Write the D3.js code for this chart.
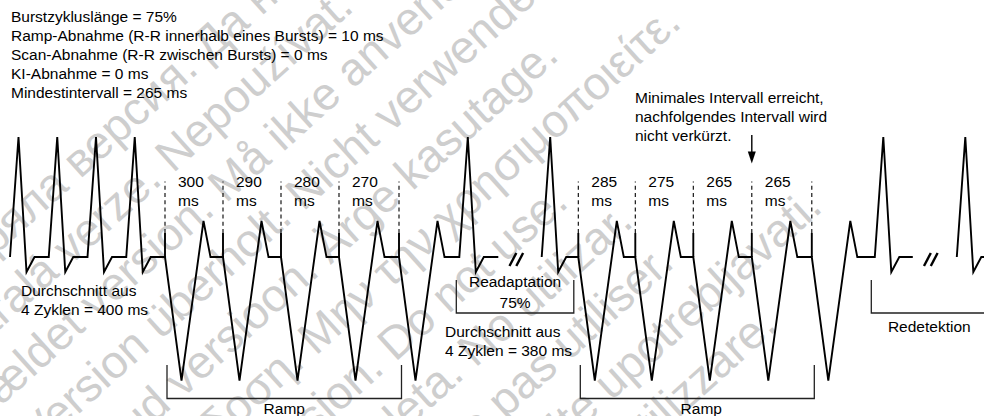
<!DOCTYPE html>
<html>
<head>
<meta charset="utf-8">
<script src="https://cdn.jsdelivr.net/npm/d3@7"></script>
<style>
  body { margin: 0; background: #fff; }
  svg { display: block; font-family: "Liberation Sans", Arial, sans-serif; }
</style>
</head>
<body>
<div class="main"></div>
<script>
const svgWidth = 984,
    svgHeight = 416;

// text blocks
const settingsLines = [
  "Burstzykluslänge = 75%",
  "Ramp-Abnahme (R-R innerhalb eines Bursts) = 10 ms",
  "Scan-Abnahme (R-R zwischen Bursts) = 0 ms",
  "KI-Abnahme = 0 ms",
  "Mindestintervall = 265 ms"
];
const noteLines = ["Minimales Intervall erreicht,", "nachfolgendes Intervall wird", "nicht verkürzt."];
const avgLabels1 = ["Durchschnitt aus", "4 Zyklen = 400 ms"];
const avgLabels2 = ["Durchschnitt aus", "4 Zyklen = 380 ms"];
const readaptLabels = ["Readaptation", "75%"];

// rhythm strip: event type and length (schematic units, not to scale)
const stripTypes   = ["sinus", "sinus", "sinus", "sinus",
                      "paced", "paced", "paced", "paced", "paced",
                      "sinus", "break", "sinus",
                      "paced", "paced", "paced", "paced", "paced",
                      "sinus", "break", "sinus"];
const stripLengths = [38.75, 38.75, 38.75, 38.75,
                      58, 58, 58, 60, 60.3,
                      39, 43.4, 36.6,
                      57, 58, 58.5, 60, 63,
                      38, 44, 40];

// R-R intervals labelled inside each ramp (ms)
const rampIntervals = [[300, 290, 280, 270], [285, 275, 265, 265]];

// watermark ("outdated version" in several languages)
const wmLines = [
  "Остаряла версия. Да не се използва.",
  "Zastaralá verze. Nepoužívat.",
  "Forældet version. Må ikke anvendes.",
  "Version überholt. Nicht verwenden.",
  "Aegunud versioon. Ärge kasutage.",
  "Παλιά έκδοση. Μην την χρησιμοποιείτε.",
  "Outdated version. Do not use.",
  "Versión obsoleta. No utilizar.",
  "Version périmée. Ne pas utiliser.",
  "Zastarjela verzija. Nemojte upotrebljavati.",
  "Versione obsoleta. Non utilizzare."
];
// word of each line used to pin it, and where that word's centre sits along the line
const wmAnchorWord = ["Да", "Nepoužívat.", "ikke", "Nicht", "kasutage.", "χρησιμοποιείτε.",
  "use.", "utilizar.", "utiliser.", "upotrebljavati.", "utilizzare."];
const wmAnchorU = [142, 135, 149, 136, 278, 333, 243, 250, 253, 329, 262];

// amplitudes of the schematic complexes
const amp = {sinusPeak: 1, sinusS: -0.125, pacedTrough: -1.03, pacedPeak: 0.3, spike: 0.2, marker: 0.63};

let svg = d3.select("body>.main").append("svg")
    .attr("width", svgWidth)
    .attr("height", svgHeight);

let x = d3.scaleLinear().domain([0, 974]).range([10, 984]),
    y = d3.scaleLinear().domain([-1, 1]).range([377, 137]);

// watermark, rotated paragraph
const wmRow = d3.scaleLinear().domain([0, 1]).range([187, 244.8]);
const wm = svg.append("g").attr("class", "watermark")
    .attr("transform", "rotate(-42)")
    .style("font-size", "46px").attr("fill", "#cecece");
wm.selectAll("text")
    .data(wmLines)
  .enter().append("text")
    .attr("y", (d, i) => wmRow(i))
    .text(d => d)
    .each(function(d, i) {
      let k = d.lastIndexOf(wmAnchorWord[i]);
      let pre = k > 0 ? this.getSubStringLength(0, k) : 0;
      let w = this.getSubStringLength(k, wmAnchorWord[i].length);
      d3.select(this).attr("x", wmAnchorU[i] - pre - w / 2);
    });

// build events with start positions
let events = [], pos = 0;
stripTypes.forEach(function(t, i) {
  events.push({type: t, start: pos, len: stripLengths[i]});
  pos += stripLengths[i];
});

function beatPoints(e) {
  if (e.type === "sinus") {
    return [[0, 0], [8.5, amp.sinusPeak], [16.5, amp.sinusS], [24.5, 0], [e.len, 0]];
  }
  return [[0, 0], [16.5, amp.pacedTrough], [38.5, amp.pacedPeak], [45.5, 0], [e.len, 0]];
}

// split strip into continuous pieces at breaks
let pieces = [[]];
events.forEach(function(e) {
  if (e.type === "break") { pieces.push([]); return; }
  beatPoints(e).forEach(p => pieces[pieces.length - 1].push([e.start + p[0], p[1]]));
});

const line = d3.line().x(d => x(d[0])).y(d => y(d[1]));

const strip = svg.append("g").attr("class", "strip");
strip.selectAll("path.ecg")
    .data(pieces)
  .enter().append("path")
    .attr("class", "ecg")
    .attr("d", line)
    .attr("fill", "none")
    .attr("stroke", "#000")
    .attr("stroke-width", 1.9)
    .attr("stroke-linejoin", "miter");

// break marks "//"
events.filter(e => e.type === "break").forEach(function(e) {
  let cx = x(e.start + 18), cy = y(0) + 2.5;
  [-3.4, 3.4].forEach(function(dx) {
    strip.append("line")
      .attr("x1", cx + dx - 3.4).attr("y1", cy + 6.5)
      .attr("x2", cx + dx + 3.4).attr("y2", cy - 6.5)
      .attr("stroke", "#000").attr("stroke-width", 2.4);
  });
});

// pacing markers and interval labels
let ramps = [], current = null;
events.forEach(function(e) {
  if (e.type === "paced") {
    if (!current) { current = []; ramps.push(current); }
    current.push(e);
  } else {
    current = null;
  }
});

const fontSize = 15.5;
ramps.forEach(function(r, ri) {
  r.forEach(function(e, i) {
    let px = x(e.start);
    strip.append("line")
      .attr("x1", px).attr("x2", px)
      .attr("y1", y(0)).attr("y2", y(amp.spike))
      .attr("stroke", "#000").attr("stroke-width", 1.9);
    strip.append("line")
      .attr("x1", px).attr("x2", px)
      .attr("y1", y(amp.spike)).attr("y2", y(amp.marker))
      .attr("stroke", "#000").attr("stroke-width", 1.1)
      .attr("stroke-dasharray", "4,3.2");
    if (i < rampIntervals[ri].length) {
      let t = svg.append("text").attr("font-size", fontSize);
      t.append("tspan").attr("x", px + 13).attr("y", 187).text(rampIntervals[ri][i]);
      t.append("tspan").attr("x", px + 13).attr("y", 206).text("ms");
    }
  });

  // ramp bracket
  let x0 = x(r[0].start) + 2, x1 = x(r[r.length - 1].start) + 2.5;
  svg.append("path")
    .attr("d", `M${x0},365V398.5H${x1}V365`)
    .attr("fill", "none").attr("stroke", "#222").attr("stroke-width", 1.3);
  svg.append("text").attr("font-size", fontSize)
    .attr("x", (x0 + x1) / 2 + (ri ? 4 : 0)).attr("y", 414)
    .attr("text-anchor", "middle").text("Ramp");
});

// readaptation bracket: from end of ramp 1 sinus to start of ramp 2
const afterRamp1 = events[stripTypes.indexOf("break") - 1];
const rx0 = x(afterRamp1.start) - 3, rx1 = x(ramps[1][0].start) - 4.5;
svg.append("path")
  .attr("d", `M${rx0},280V313H${rx1}V280`)
  .attr("fill", "none").attr("stroke", "#222").attr("stroke-width", 1.3);
readaptLabels.forEach(function(t, i) {
  svg.append("text").attr("font-size", fontSize)
    .attr("x", (rx0 + rx1) / 2).attr("y", 287 + i * 21)
    .attr("text-anchor", "middle").text(t);
});

// redetection bracket
const afterRamp2 = events[stripTypes.lastIndexOf("break") - 1];
const dx0 = x(afterRamp2.start) - 3.5;
svg.append("path")
  .attr("d", `M${dx0},280V313H${svgWidth + 5}`)
  .attr("fill", "none").attr("stroke", "#222").attr("stroke-width", 1.3);
svg.append("text").attr("font-size", fontSize)
  .attr("x", dx0 + 58).attr("y", 331.5)
  .attr("text-anchor", "middle").text("Redetektion");

// averaging labels and notes
function block(lines, x0, y0, step) {
  let t = svg.append("text").attr("font-size", fontSize);
  lines.forEach(function(l, i) {
    t.append("tspan").attr("x", x0).attr("y", y0 + i * step).text(l);
  });
}
block(avgLabels1, 21, 296, 19);
block(avgLabels2, 445, 337, 19);
block(settingsLines, 11, 22, 19);
block(noteLines, 635, 103, 19);

// arrow to the minimum interval
const ax = x(ramps[1][3].start);
svg.append("line").attr("x1", ax).attr("x2", ax).attr("y1", 135).attr("y2", 153)
  .attr("stroke", "#000").attr("stroke-width", 1.4);
svg.append("path").attr("d", `M${ax - 4},151.5L${ax + 4},151.5L${ax},163.5Z`).attr("fill", "#000");
</script>
</body>
</html>
